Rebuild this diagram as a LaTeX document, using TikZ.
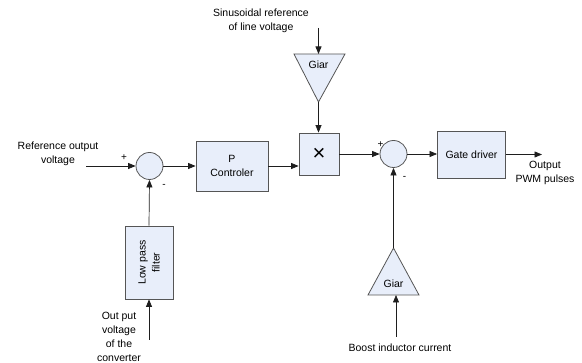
\documentclass[tikz,border=0pt]{standalone}
\usepackage{fontspec}
\setmainfont{Liberation Sans}
\usetikzlibrary{arrows.meta,calc}
\definecolor{boxfill}{RGB}{232,238,250}
\definecolor{boxline}{RGB}{85,85,85}
\definecolor{wireclr}{RGB}{30,30,30}
\begin{document}
\begin{tikzpicture}[x=1pt,y=-1pt,
  txt/.style={font=\fontsize{10.5}{14}\selectfont, align=center, inner sep=0pt},
  blk/.style={txt, draw=boxline, fill=boxfill, line width=0.8pt},
  sumc/.style={circle, draw=boxline, fill=boxfill, line width=0.8pt, minimum size=27pt, inner sep=0pt},
  tri/.style={draw=boxline, fill=boxfill, line width=0.8pt},
  conn/.style={draw=wireclr, line width=0.7pt},
  arr/.style={conn, -{Triangle[length=7.5pt,width=6pt]}},
  sgn/.style={font=\fontsize{10}{12}\selectfont, inner sep=0pt}]
\useasboundingbox (0,0) rectangle (582,363);
% blocks
\node[sumc] (sum1) at (149.5,166) {};
\node[blk, minimum width=72pt, minimum height=50pt] (pc) at (232,166) {P\\Controler};
\node[blk, minimum width=40pt, minimum height=42pt, font=\fontsize{22}{22}\selectfont] (mul) at (319,154) {×};
\node[sumc] (sum2) at (393.5,154) {};
\node[blk, minimum width=68pt, minimum height=47pt] (gate) at (471.5,154.5) {Gate driver};
\node[blk, minimum width=48pt, minimum height=73pt] (lpf) at (149,262.5) {};
\node[txt, rotate=90] (lpftxt) at (lpf.center) {Low pass\\filter};
% triangles
\coordinate (tA) at (294,54);
\coordinate (tB) at (345,54);
\coordinate (tApex) at (318.5,102);
\coordinate (tTop) at (318.5,54);
\draw[tri] (tA) -- (tB) -- (tApex) -- cycle;
\node[txt] (g1) at (318.5,65) {Giar};
\coordinate (bApex) at (393.5,248);
\coordinate (bL) at (368,295);
\coordinate (bR) at (419,295);
\coordinate (bBase) at (396,295);
\draw[tri] (bApex) -- (bR) -- (bL) -- cycle;
\node[txt] (g2) at (393.5,284) {Giar};
% texts
\node[txt] (refin) at (58,154) {Reference output\\voltage};
\node[txt] (sinin) at (261,20.5) {Sinusoidal reference\\of line voltage};
\node[txt] (vout) at (119,337) {Out put\\voltage\\of the\\converter};
\node[txt] (pwm) at (545,173) {Output\\PWM pulses};
\node[txt] (boost) at (400,347.5) {Boost inductor current};
% signs
\node[sgn] (p1) at (124,158) {+};
\node[sgn] (m1) at (164,186) {-};
\node[sgn] (p2) at (380.5,145) {+};
\node[sgn] (m2) at (404.5,178) {-};
% free ends
\coordinate (refStart) at (86,166);
\coordinate (sinStart) at (318.5,28);
\coordinate (voutStart) at (149,340);
\coordinate (boostStart) at (396,337);
\coordinate (outEnd) at (542,154.5);
% connectors
\draw[arr] (refStart) -- (sum1.west);
\draw[arr] (sum1.east) -- (pc.west);
\draw[arr] (pc.east) -- (pc.east -| mul.west);
\draw[arr] (sinStart) -- (tTop);
\draw[arr] (tApex) -- (tApex |- mul.north);
\draw[arr] (mul.east) -- (sum2.west);
\draw[arr] (sum2.east) -- (sum2.east -| gate.west);
\draw[arr] (gate.east) -- (outEnd);
\draw[arr] (bApex) -- (sum2.south);
\draw[arr] (boostStart) -- (bBase);
\draw[arr] (lpf.north) -- (sum1.south);
\draw[arr] (voutStart) -- (lpf.south);
\end{tikzpicture}
\end{document}
